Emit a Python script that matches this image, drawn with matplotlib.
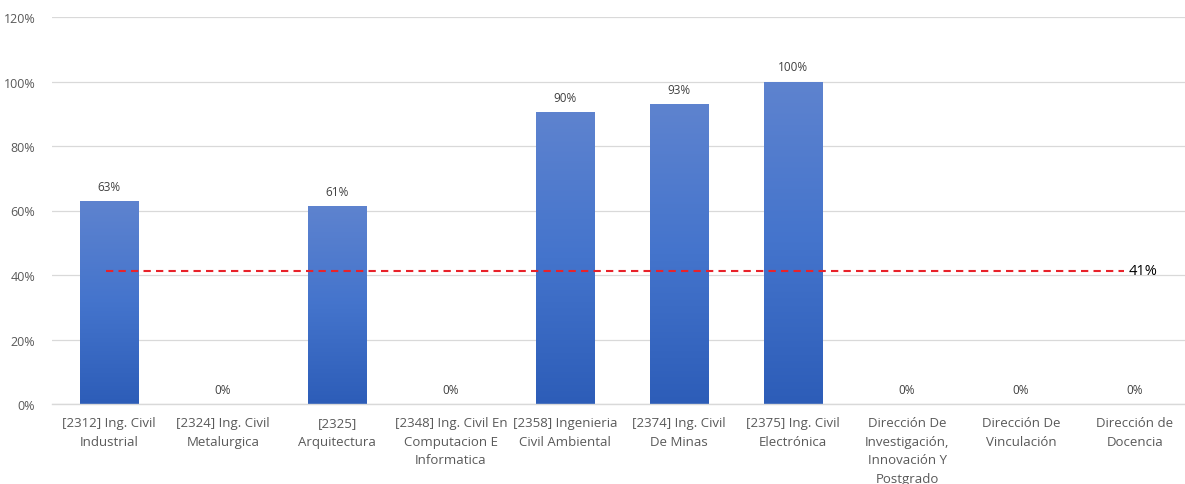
import numpy as np
import matplotlib.pyplot as plt
from matplotlib.colors import LinearSegmentedColormap
from matplotlib.ticker import FuncFormatter

categories = [
    "[2312] Ing. Civil\nIndustrial",
    "[2324] Ing. Civil\nMetalurgica",
    "[2325]\nArquitectura",
    "[2348] Ing. Civil En\nComputacion E\nInformatica",
    "[2358] Ingenieria\nCivil Ambiental",
    "[2374] Ing. Civil\nDe Minas",
    "[2375] Ing. Civil\nElectrónica",
    "Dirección De\nInvestigación,\nInnovación Y\nPostgrado",
    "Dirección De\nVinculación",
    "Dirección de\nDocencia",
]
values = [0.629, 0.0, 0.614, 0.0, 0.905, 0.929, 1.0, 0.0, 0.0, 0.0]
labels = ["63%", "0%", "61%", "0%", "90%", "93%", "100%", "0%", "0%", "0%"]
average = 0.413
average_label = "41%"


def main():
    plt.rcParams['font.family'] = ['Open Sans', 'DejaVu Sans']
    fig = plt.figure(figsize=(11.85, 4.85), dpi=100)
    ax = fig.add_axes([52 / 1185, 80 / 485, 1140 / 1185, (405 - 18) / 485])

    x = np.arange(len(categories))
    bars = ax.bar(x, values, width=0.51, color="#4472C4", zorder=2)

    # vertical gradient inside each bar
    cmap = LinearSegmentedColormap.from_list("grad", ["#2D5DB8", "#4474CC", "#5E83CF"])
    grad = np.linspace(0, 1, 256).reshape(-1, 1)
    for b in bars:
        if b.get_height() <= 0:
            continue
        b.set_facecolor("none")
        x0, w, h = b.get_x(), b.get_width(), b.get_height()
        im = ax.imshow(grad, cmap=cmap, aspect="auto", origin="lower",
                       extent=[x0, x0 + w, 0, h], zorder=2)
        im.set_clip_path(b)

    for xi, v, lab in zip(x, values, labels):
        ax.text(xi, v + 0.025, lab, ha="center", va="bottom",
                fontsize=8.5, color="#404040")

    ax.plot([x[0] - 0.03, x[-1] - 0.1], [average, average], color="#E8222A",
            linestyle=(0, (3.5, 2.5)), linewidth=1.5, zorder=3)
    ax.text(x[-1] - 0.06, average, average_label, ha="left", va="center",
            fontsize=10.5, color="#000000")

    ax.set_xlim(-0.5, len(categories) - 0.5)
    ax.set_ylim(0, 1.2)
    ax.set_yticks(np.arange(0, 1.21, 0.2))
    ax.yaxis.set_major_formatter(FuncFormatter(lambda v, p: f"{v * 100:.0f}%"))
    ax.set_xticks(x)
    ax.set_xticklabels(categories, fontsize=9.5, color="#595959", linespacing=1.55)
    ax.tick_params(axis="y", labelsize=9, labelcolor="#595959", length=0, pad=12)
    ax.tick_params(axis="x", length=0, pad=9)
    ax.grid(axis="y", color="#D9D9D9", linewidth=0.9, zorder=0)
    for s in ["top", "right", "left"]:
        ax.spines[s].set_visible(False)
    ax.spines["bottom"].set_color("#D9D9D9")
    ax.spines["bottom"].set_linewidth(1.0)

    fig.savefig("out.png", dpi=100)


if __name__ == "__main__":
    main()
